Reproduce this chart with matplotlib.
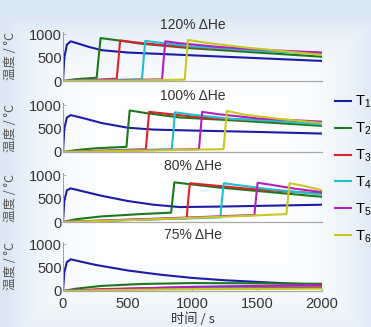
import numpy as np
import matplotlib.pyplot as plt

plt.rcParams['font.family'] = ['Liberation Sans', 'DejaVu Sans']

# Panel titles
titles = ['120% ΔHe', '100% ΔHe', '80% ΔHe', '75% ΔHe']
labels = ['T_1', 'T_2', 'T_3', 'T_4', 'T_5', 'T_6']
colors = ['#1c1ca8', '#1a7a1a', '#e0202a', '#20c0d0', '#b020c0', '#c8c820']

# 120% ΔHe : time (s) / temperature (°C) knots for T1..T6
t_120 = [
    [0, 10, 30, 60, 120, 200, 300, 500, 1000, 1500, 2000],
    [0, 100, 260, 275, 290, 400, 600, 1000, 1500, 2000],
    [0, 200, 415, 428, 441, 550, 800, 1200, 1600, 2000],
    [0, 300, 610, 622, 635, 750, 1000, 1500, 2000],
    [0, 400, 765, 777, 790, 900, 1200, 1600, 2000],
    [0, 500, 940, 952, 965, 1100, 1400, 1700, 2000],
]
y_120 = [
    [0, 500, 780, 850, 800, 730, 660, 610, 550, 490, 430],
    [0, 40, 70, 500, 920, 880, 800, 700, 610, 520],
    [0, 20, 50, 450, 870, 830, 760, 690, 640, 600],
    [0, 20, 40, 450, 860, 820, 740, 650, 580],
    [0, 15, 35, 450, 850, 810, 730, 660, 610],
    [0, 10, 30, 450, 880, 820, 720, 640, 560],
]

# 100% ΔHe
t_100 = [
    [0, 10, 30, 60, 150, 300, 500, 700, 1000, 1500, 2000],
    [0, 100, 250, 490, 502, 515, 650, 900, 1300, 2000],
    [0, 300, 640, 652, 665, 800, 1100, 1500, 2000],
    [0, 400, 840, 852, 865, 1000, 1300, 1600, 2000],
    [0, 500, 1050, 1062, 1075, 1200, 1500, 2000],
    [0, 600, 1240, 1252, 1265, 1400, 1700, 2000],
]
y_100 = [
    [0, 500, 740, 790, 730, 620, 520, 480, 460, 430, 395],
    [0, 40, 80, 110, 500, 890, 830, 740, 680, 560],
    [0, 30, 60, 450, 860, 820, 730, 680, 610],
    [0, 30, 60, 450, 850, 800, 710, 670, 590],
    [0, 30, 60, 450, 860, 810, 720, 650],
    [0, 30, 60, 450, 880, 800, 700, 620],
]

# 80% ΔHe
t_80 = [
    [0, 10, 30, 60, 150, 300, 500, 700, 900, 1200, 1600, 2000],
    [0, 100, 300, 600, 835, 847, 860, 950, 1200, 1600, 2000],
    [0, 300, 700, 955, 967, 980, 1100, 1400, 1700, 2000],
    [0, 500, 1000, 1215, 1228, 1241, 1350, 1600, 2000],
    [0, 500, 1000, 1478, 1490, 1503, 1600, 1800, 2000],
    [0, 500, 1000, 1400, 1725, 1737, 1750, 1850, 2000],
]
y_80 = [
    [0, 450, 680, 720, 660, 560, 450, 370, 320, 330, 350, 370],
    [0, 60, 120, 170, 200, 520, 850, 820, 740, 640, 540],
    [0, 30, 60, 80, 480, 830, 800, 720, 660, 610],
    [0, 40, 80, 100, 480, 830, 790, 700, 590],
    [0, 50, 100, 150, 500, 840, 800, 710, 640],
    [0, 40, 90, 130, 170, 500, 830, 780, 680],
]

# 75% ΔHe
t_75 = [
    [0, 10, 30, 60, 120, 250, 500, 750, 1000, 1250, 1500, 1750, 2000],
    [0, 100, 300, 600, 1000, 1500, 2000],
    [0, 300, 800, 1200, 2000],
    [0, 400, 1000, 2000],
    [0, 400, 1000, 2000],
    [0, 400, 1000, 2000],
]
y_75 = [
    [0, 400, 620, 680, 640, 560, 440, 350, 280, 230, 195, 160, 130],
    [0, 50, 110, 150, 170, 165, 155],
    [0, 40, 70, 80, 85],
    [0, 30, 80, 120],
    [0, 40, 90, 130],
    [0, 20, 40, 50],
]

panels = [(t_120, y_120), (t_100, y_100), (t_80, y_80), (t_75, y_75)]

W, H = 371, 327
fig = plt.figure(figsize=(W / 100, H / 100), dpi=100)

# soft bluish background
bg = fig.add_axes([0, 0, 1, 1], zorder=-10)
yy, xx = np.mgrid[0:1:200j, 0:1:200j]
d = np.clip(np.maximum(np.abs(xx - 0.52) / 0.5, np.abs(yy - 0.55) / 0.5), 0, 1) ** 4
img = np.ones((200, 200, 3)) * (1 - d)[..., None] + np.array([0.86, 0.91, 0.96]) * d[..., None]
bg.imshow(img, aspect='auto', extent=[0, 1, 0, 1])
bg.axis('off')

zero_px = [81, 152, 222, 291]
ax_h = 49
lines = []
for i, (ts, ys) in enumerate(panels):
    ax = fig.add_axes([63 / W, 1 - zero_px[i] / H, 259 / W, ax_h / H])
    ax.patch.set_alpha(0)
    for k in range(6):
        ln, = ax.plot(ts[k], ys[k], color=colors[k], lw=1.5, solid_joinstyle='round')
        if i == 0:
            lines.append(ln)
    ax.set_xlim(0, 2000)
    ax.set_ylim(0, 1050)
    ax.set_yticks([0, 500, 1000])
    ax.set_xticks([0, 500, 1000, 1500, 2000])
    for s in ['top', 'right']:
        ax.spines[s].set_visible(False)
    ax.spines['left'].set_color('#a0a0a0')
    ax.spines['bottom'].set_color('#a8a8a8')
    ax.spines['left'].set_linewidth(0.7)
    ax.spines['bottom'].set_linewidth(0.9)
    ax.tick_params(direction='in', length=2, width=0.6, color='#a0a0a0',
                   labelsize=10.5, labelcolor='#333333', pad=1)
    if i < 3:
        ax.tick_params(axis='x', labelbottom=False, length=0)
    else:
        ax.tick_params(axis='x', pad=4)
        ax.set_xlabel('时间 / s', family=['Noto Sans CJK SC', 'DejaVu Sans'],
                      fontsize=9.5, color='#333333', labelpad=1)
    ax.set_title(titles[i], fontsize=10, color='#333333', pad=1)
    fig.text(11 / W, 1 - (zero_px[i] - ax_h / 2) / H, '温度 / °C', rotation=90,
             ha='center', va='center', fontsize=9, color='#555555',
             family=['Noto Sans CJK SC', 'DejaVu Sans'])

fig.legend(lines, ['$\\mathregular{' + l + '}$' for l in labels],
           loc='upper left', bbox_to_anchor=(329 / W, 1 - 88 / H),
           frameon=False, fontsize=10.5, handlelength=1.1, handletextpad=0.3,
           labelspacing=0.72, borderaxespad=0)

plt.savefig('out.png', dpi=100)
